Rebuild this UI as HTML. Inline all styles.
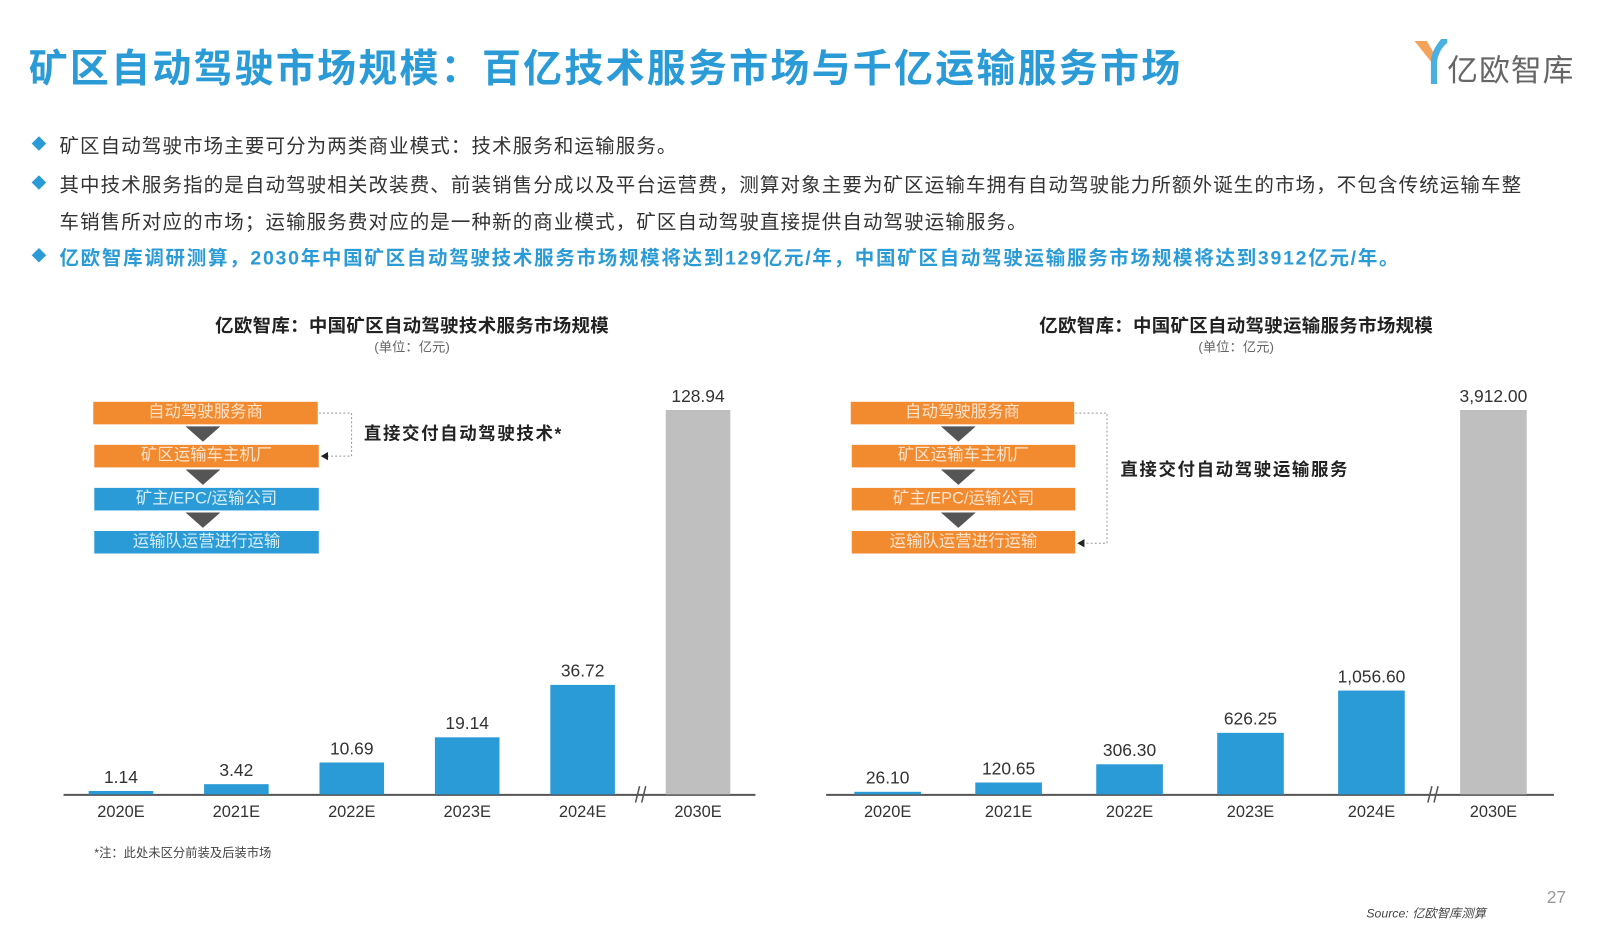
<!DOCTYPE html>
<html><head><meta charset="utf-8">
<style>
html,body{margin:0;padding:0;background:#fff;}
body{width:1606px;height:944px;overflow:hidden;position:relative;font-family:"Liberation Sans","Noto Sans CJK SC",sans-serif;}
#wrap{position:absolute;left:0;top:0;width:1567px;height:921px;transform:scale(1.025);transform-origin:0 0;}
.abs{position:absolute;white-space:nowrap;}
.title{left:28px;top:36px;font-size:38px;font-weight:bold;color:#2a9bd6;letter-spacing:2.2px;}
.bul{font-size:19px;color:#333;letter-spacing:1.1px;}
.dia{position:absolute;width:10px;height:10px;background:#2a9bd6;transform:rotate(45deg);}
.ct{font-size:18px;font-weight:bold;color:#222;transform:translateX(-50%);letter-spacing:0.3px;}
.cs{font-size:13px;color:#666;transform:translateX(-50%);}
.box{position:absolute;height:22px;color:#fde5cf;font-size:16px;text-align:center;line-height:22px;}
.or{background:#f28a30;}
.bl{background:#2a9bd6;color:#d6eefa;}
.tri{position:absolute;width:0;height:0;border-left:17px solid transparent;border-right:17px solid transparent;border-top:15px solid #555;}
.note{font-size:17px;font-weight:bold;color:#222;letter-spacing:1.6px;}
</style></head><body>
<div id="wrap">
<div class="abs title">矿区自动驾驶市场规模：百亿技术服务市场与千亿运输服务市场</div>
<div class="abs" style="left:1378px;top:36px;width:170px;height:48px;">
<svg width="40" height="48" style="position:absolute;left:0;top:0"><path d="M2 4 L14 4 L22 18 L18 24 Z" fill="#f5a25a"/><path d="M34 2 L28 2 Q18 14 18 24 L18 46 L24 46 L24 24 Q26 12 34 6Z" fill="#4ab0e0"/></svg>
<span class="abs" style="left:34px;top:8px;font-size:30px;color:#666;letter-spacing:1px;">亿欧智库</span></div>

<div class="dia" style="left:33px;top:135px"></div>
<div class="abs bul" style="left:58px;top:128px">矿区自动驾驶市场主要可分为两类商业模式：技术服务和运输服务。</div>
<div class="dia" style="left:33px;top:173px"></div>
<div class="abs bul" style="left:58px;top:166px;">其中技术服务指的是自动驾驶相关改装费、前装销售分成以及平台运营费，测算对象主要为矿区运输车拥有自动驾驶能力所额外诞生的市场，不包含传统运输车整</div>
<div class="abs bul" style="left:58px;top:202px;">车销售所对应的市场；运输服务费对应的是一种新的商业模式，矿区自动驾驶直接提供自动驾驶运输服务。</div>
<div class="dia" style="left:33px;top:244px"></div>
<div class="abs bul" style="left:58px;top:237px;color:#2a9bd6;font-weight:bold;letter-spacing:1.7px">亿欧智库调研测算，2030年中国矿区自动驾驶技术服务市场规模将达到129亿元/年，中国矿区自动驾驶运输服务市场规模将达到3912亿元/年。</div>

<div class="abs ct" style="left:402px;top:304px">亿欧智库：中国矿区自动驾驶技术服务市场规模</div>
<div class="abs cs" style="left:402px;top:328px">(单位：亿元)</div>
<div class="abs ct" style="left:1206px;top:304px">亿欧智库：中国矿区自动驾驶运输服务市场规模</div>
<div class="abs cs" style="left:1206px;top:328px">(单位：亿元)</div>

<!-- left flow -->
<div class="box or" style="left:91px;top:392px;width:219px">自动驾驶服务商</div>
<div class="tri" style="left:181px;top:416px"></div>
<div class="box or" style="left:92px;top:434px;width:219px">矿区运输车主机厂</div>
<div class="tri" style="left:181px;top:458px"></div>
<div class="box bl" style="left:92px;top:476px;width:219px">矿主/EPC/运输公司</div>
<div class="tri" style="left:181px;top:500px"></div>
<div class="box bl" style="left:92px;top:518px;width:219px">运输队运营进行运输</div>
<svg class="abs" style="left:305px;top:395px" width="50" height="60"><path d="M6 8 H38 V50 H14" fill="none" stroke="#999" stroke-dasharray="2,2"/><path d="M8 50 L15 46 L15 54Z" fill="#222"/></svg>
<div class="abs note" style="left:355px;top:409px;">直接交付自动驾驶技术*</div>

<!-- right flow -->
<div class="box or" style="left:830px;top:392px;width:218px">自动驾驶服务商</div>
<div class="tri" style="left:918px;top:416px"></div>
<div class="box or" style="left:831px;top:434px;width:218px">矿区运输车主机厂</div>
<div class="tri" style="left:918px;top:458px"></div>
<div class="box or" style="left:831px;top:476px;width:218px">矿主/EPC/运输公司</div>
<div class="tri" style="left:918px;top:500px"></div>
<div class="box or" style="left:831px;top:518px;width:218px">运输队运营进行运输</div>
<svg class="abs" style="left:1043px;top:395px" width="50" height="145"><path d="M6 8 H37 V135 H14" fill="none" stroke="#999" stroke-dasharray="2,2"/><path d="M8 135 L15 131 L15 139Z" fill="#222"/></svg>
<div class="abs note" style="left:1093px;top:444px;">直接交付自动驾驶运输服务</div>

<svg id="chart" class="abs" style="left:0;top:0" width="1567" height="921"></svg>

<div class="abs" style="left:92px;top:823px;font-size:12px;color:#444">*注：此处未区分前装及后装市场</div>
<div class="abs" style="left:1333px;top:882px;font-size:12px;color:#444;font-style:italic">Source: 亿欧智库测算</div>
<div class="abs" style="left:1509px;top:866px;font-size:17px;color:#999">27</div>
</div>
<script>
const categories = ["2020E","2021E","2022E","2023E","2024E","2030E"];
const techValues = [1.14,3.42,10.69,19.14,36.72,128.94];
const techLabels = ["1.14","3.42","10.69","19.14","36.72","128.94"];
const transValues = [26.10,120.65,306.30,626.25,1056.60,3912.00];
const transLabels = ["26.10","120.65","306.30","626.25","1,056.60","3,912.00"];
const NS="http://www.w3.org/2000/svg";
const svg=document.getElementById('chart');
function mk(t,a){const e=document.createElementNS(NS,t);for(const k in a)e.setAttribute(k,a[k]);svg.appendChild(e);return e;}
function drawChart(cfg,values,labels,prefix){
  const base=775, maxH=375, maxV=Math.max(...values);
  const y=v=>base-v/maxV*maxH;
  const x=i=>cfg.x0+i*cfg.step+(i===5?cfg.extra:0);
  const axis=mk('line',{x1:cfg.ax0,x2:cfg.ax1,y1:base+0.5,y2:base+0.5,stroke:'#555','stroke-width':2});
  
  
  const br=mk('path',{d:`M${cfg.brk-5} ${base+8} L${cfg.brk-1} ${base-8} M${cfg.brk+1} ${base+8} L${cfg.brk+5} ${base-8}`,stroke:'#555','stroke-width':1.5,fill:'none'});
  
  
  values.forEach((v,i)=>{
    const cx=x(i);
    const r=mk('rect',{x:cx-cfg.bw/2,y:y(v),width:cfg.bw,height:base-y(v),fill:i===5?'#bfbfbf':'#2a9bd6'});
    
    
    const t=mk('text',{x:cx,y:y(v)-8,'text-anchor':'middle','font-size':17,fill:'#333','font-family':'Liberation Sans, sans-serif'});
    t.textContent=labels[i];
    
    
    const c=mk('text',{x:cx,y:base+22,'text-anchor':'middle','font-size':16,fill:'#333','font-family':'Liberation Sans, sans-serif'});
    c.textContent=categories[i];
    
    
  });
}
drawChart({x0:118,step:112.6,extra:0,bw:63,ax0:62,ax1:737,brk:625},techValues,techLabels,'tech');
drawChart({x0:866,step:118,extra:1,bw:65,ax0:806,ax1:1516,brk:1398},transValues,transLabels,'transport');
</script>
</body></html>
